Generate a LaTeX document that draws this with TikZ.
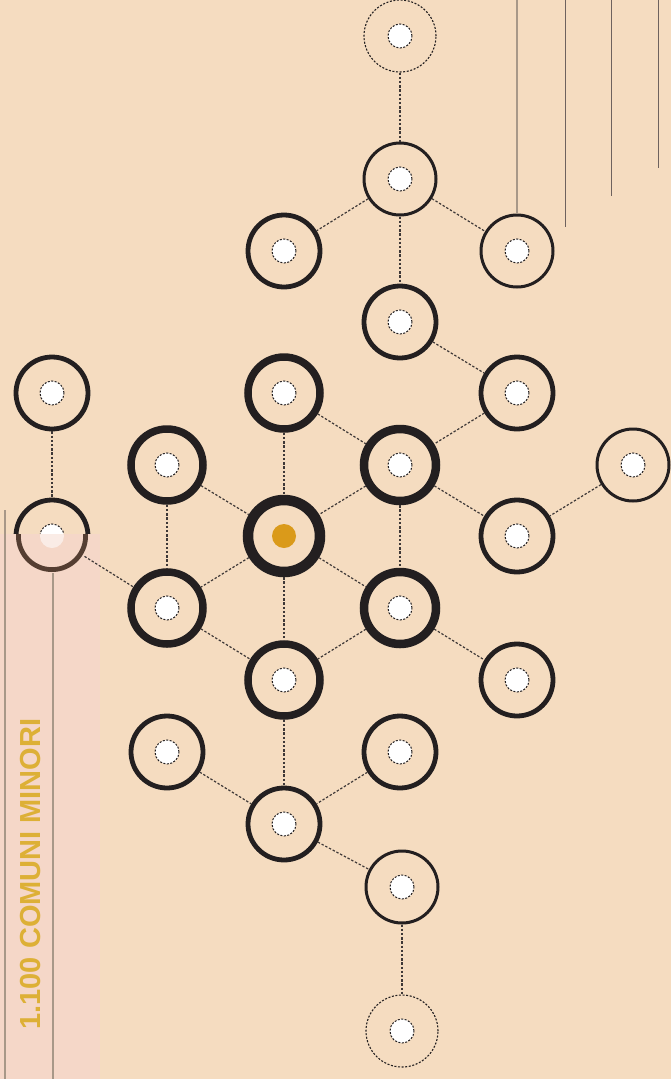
\documentclass[tikz,border=0pt]{standalone}
\usepackage{fontspec}
\setmainfont{Liberation Sans}
\definecolor{bg}{HTML}{F5DCC0}
\definecolor{strip}{HTML}{F5D7C8}
\definecolor{ink}{HTML}{231F20}
\definecolor{brownink}{HTML}{3A2418}
\definecolor{edgec}{HTML}{3E3837}
\definecolor{gold}{HTML}{DDB036}
\definecolor{orangedot}{HTML}{DA9A1A}
\definecolor{vline}{HTML}{6E625E}
\definecolor{vlinelight}{HTML}{A89888}
\tikzset{
  ring/.style={circle, draw=ink, fill=bg, minimum size=72pt, inner sep=0pt,
    path picture={\filldraw[fill=white, draw=ink, line width=1pt, dash pattern=on 2pt off 1.5pt]
      (path picture bounding box.center) circle (12pt);}},
  rthin/.style={ring, line width=3pt},
  rmed/.style={ring, line width=4.8pt},
  rthick/.style={ring, line width=7.5pt},
  rthicker/.style={ring, line width=8.5pt},
  rcenter/.style={circle, draw=ink, fill=bg, minimum size=72pt, inner sep=0pt, line width=10.5pt,
    path picture={\fill[orangedot] (path picture bounding box.center) circle (12pt);}},
  rdash/.style={ring, line width=1.1pt, dash pattern=on 2pt off 1.6pt},
  edge/.style={draw=edgec, line width=1.2pt, dash pattern=on 2.4pt off 1.8pt},
  vl/.style={draw=vline, line width=1pt},
}
\begin{document}
\begin{tikzpicture}[x=1pt,y=-1pt]
\fill[bg] (0,0) rectangle (671,1079);
\useasboundingbox (0,0) rectangle (671,1079);
% nodes
\node[rdash]    (n1)  at (400,36)  {};
\node[rthin]    (n2)  at (400,179) {};
\node[rmed]     (n3)  at (284,251) {};
\node[rthin]    (n4)  at (517,251) {};
\node[rmed]     (n5)  at (400,322) {};
\node[rmed]     (n6)  at (517,393) {};
\node[rthick]   (n7)  at (284,393) {};
\node[rmed]     (n8)  at (52,393)  {};
\node[rthick]   (n9)  at (167,465) {};
\node[rthicker] (n10) at (400,465) {};
\node[rthin]    (n11) at (633,465) {};
\node[rmed]     (n12) at (52,536)  {};
\node[rcenter]  (n13) at (284,536) {};
\node[rmed]     (n14) at (517,536) {};
\node[rthick]   (n15) at (167,608) {};
\node[rthicker] (n16) at (400,608) {};
\node[rmed]     (n17) at (517,680) {};
\node[rthick]   (n18) at (284,680) {};
\node[rmed]     (n19) at (167,752) {};
\node[rmed]     (n20) at (400,752) {};
\node[rmed]     (n21) at (284,824) {};
\node[rthin]    (n22) at (402,887) {};
\node[rdash]    (n23) at (402,1031) {};
% edges
\foreach \a/\b in {n1/n2,n2/n3,n2/n4,n2/n5,n5/n6,n6/n10,n7/n10,n7/n13,n8/n12,n9/n13,n9/n15,
  n10/n13,n10/n14,n10/n16,n11/n14,n13/n15,n13/n16,n13/n18,n16/n17,n15/n18,n16/n18,
  n18/n21,n19/n21,n20/n21,n21/n22,n22/n23}
  \path[edge] (\a) -- (\b);
% vertical lines top right
\coordinate (t1) at (517,0);
\coordinate (t2) at (565,0);
\coordinate (b2) at (565,227);
\coordinate (t3) at (611,0);
\coordinate (b3) at (611,196);
\coordinate (t4) at (658,0);
\coordinate (b4) at (658,168);
\draw[draw=vlinelight, line width=1.4pt] (t1) -- (n4.north);
\draw[vl] (t2) -- (b2);
\draw[vl] (t3) -- (b3);
\draw[vl] (t4) -- (b4);
% left strip
\fill[strip] (0,534) rectangle (100,1079);
\begin{scope}
  \clip (0,534) rectangle (100,600);
  \draw[draw=brownink, draw opacity=0.85, line width=4.8pt] (n12.center) circle (33.6pt);
  \fill[white, opacity=0.55] (n12.center) circle (12pt);
\end{scope}
\path[edge] (n12) -- (n15);
\coordinate (l1t) at (5,510);
\coordinate (l1b) at (5,1079);
\coordinate (l2t) at (53,573);
\coordinate (l2b) at (53,1079);
\draw[draw=vlinelight, line width=1.3pt] (l1t) -- (l1b);
\draw[draw=vlinelight, line width=1.3pt] (l2t) -- (l2b);
\node[rotate=90, text=gold, font=\bfseries\fontsize{29}{29}\selectfont, inner sep=0pt]
  (label) at (31,874) {1.100 COMUNI MINORI};
\end{tikzpicture}
\end{document}
